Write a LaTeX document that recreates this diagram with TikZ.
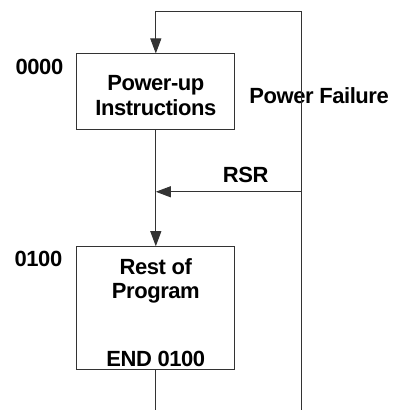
\documentclass[tikz,border=0pt]{standalone}
\usepackage{fontspec}
\setmainfont{Liberation Sans}[LetterSpace=-2.0]
\usepackage{xcolor}
\usepackage{tikz}
\usetikzlibrary{arrows.meta}
\definecolor{LineColor}{HTML}{333333}
\definecolor{TextColor}{HTML}{000000}
\tikzset{
	progbox/.style={draw=LineColor, line width=1pt, fill=white, minimum width=158pt, inner sep=0pt},
	flow/.style={-{Triangle[length=15pt,width=11pt]}, line width=1pt, draw=LineColor},
	plainline/.style={line width=1pt, draw=LineColor},
	lbl/.style={anchor=base, inner sep=0pt, text=TextColor, font=\bfseries\fontsize{22}{25}\selectfont},
}

\begin{document}
\begin{tikzpicture}[x=1pt,y=-1pt]
	\fill[white] (0,0) rectangle (393,410);

	% Program blocks
	\node[progbox, minimum height=76pt] (pwrup) at (156,92) {};
	\node[lbl] (pwrupA) at (156,91) {Power-up};
	\node[lbl] (pwrupB) at (156,116) {Instructions};

	\node[progbox, minimum height=123pt] (rest) at (156,308.5) {};
	\node[lbl] (restA) at (156,275) {Rest of};
	\node[lbl] (restB) at (156,299) {Program};
	\node[lbl] (restC) at (156,367) {END 0100};

	% Addresses and branch labels
	\node[lbl] (addrA) at (39.5,75) {0000};
	\node[lbl] (addrB) at (38.5,267) {0100};
	\node[lbl] (pwrfail) at (319.5,104) {Power Failure};
	\node[lbl] (rsr) at (246,183) {RSR};

	% Connectors
	\coordinate (pfbot) at (302,410);
	\coordinate (pftop) at (302,12);
	\coordinate (rsrR) at (302,192);
	\coordinate (rsrL) at (156,192);
	\coordinate (exit) at (156,410);
	\draw[flow] (pfbot) -- (pftop) -| (pwrup.north);
	\draw[flow] (pwrup) -- (rest);
	\draw[flow] (rsrR) -- (rsrL);
	\draw[plainline] (rest) -- (exit);
\end{tikzpicture}
\end{document}
